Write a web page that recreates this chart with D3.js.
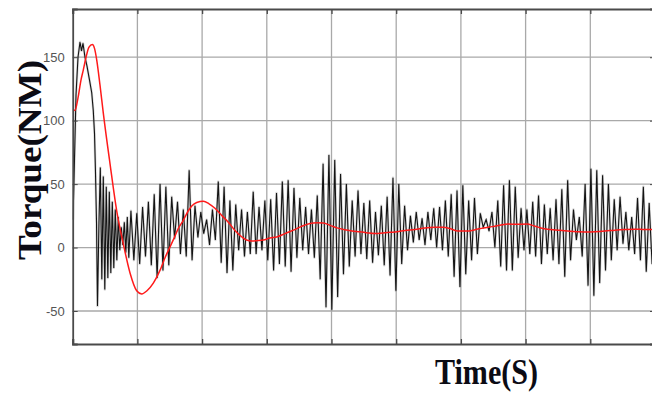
<!DOCTYPE html>
<html>
<head>
<meta charset="utf-8">
<script src="https://cdn.jsdelivr.net/npm/d3@7"></script>
<style>
  html, body { margin: 0; padding: 0; background: #fff; }
  svg { display: block; }
</style>
</head>
<body>
<div id="chart"></div>
<script>
// ---------------- DATA ----------------
const xGridTicks = [1, 2, 3, 4, 5, 6, 7, 8, 9];
const yTicks = [-50, 0, 50, 100, 150];
const yTickLabels = ["-50", "0", "50", "100", "150"];
const xLabel = "Time(S)";
const yLabel = "Torque(NM)";

// black (raw torque) – start-up transient, explicit time/value pairs
const blackStartTime = [0.005, 0.028, 0.051, 0.082, 0.113, 0.136, 0.159, 0.190, 0.221, 0.260,
  0.294, 0.318, 0.337, 0.352, 0.368, 0.383, 0.406, 0.427, 0.450, 0.473,
  0.496, 0.519, 0.543, 0.566, 0.589, 0.612, 0.635, 0.658, 0.682, 0.705,
  0.728, 0.751, 0.774, 0.798, 0.821, 0.844, 0.867];
const blackStartValue = [22, 70, 120, 150, 162, 155, 161, 150, 143, 132,
  122, 108, 90, 60, 20, -46, 20, 63, -25, 56,
  -33, 48, -24, 44, -20, 36, -16, 30, -10, 24,
  -2, 16, 2, 20, -4, 24, -8];

// black (raw torque) – steady oscillation, sampled every 0.045 s from t = 0.9
const blackSampleStart = 0.9;
const blackSampleStep = 0.045;
const blackSampleValue = [
  29, -10, 27, -13, 32, -7, 36, -14, 42, -24,
  50, -18, 48, -14, 40, 7, 36, -5, 30, -7,
  61, -10, 33, 8, 28, 11, 22, 2, 30, 6,
  52, -12, 48, -20, 37, -18, 34, -2, 30, -7,
  28, -5, 44, -5, 32, -2, 37, -10, 38, -18,
  43, -13, 52, -15, 53, -19, 47, -8, 39, -2,
  32, -5, 30, -8, 41, -25, 66, -47, 73, -49,
  69, -39, 58, -21, 50, -15, 37, -7, 45, -5,
  35, -9, 37, -12, 28, -6, 33, -14, 40, -22,
  55, -34, 50, -13, 33, -2, 25, 4, 28, 6,
  23, 2, 28, 6, 31, 0, 32, -2, 37, -7,
  42, -23, 45, -31, 49, -21, 37, -10, 39, -5,
  27, 16, 22, 13, 28, 0, 37, -15, 49, -18,
  53, -18, 48, -8, 31, -2, 30, -5, 36, -7,
  41, -13, 34, -5, 31, -10, 38, -13, 46, -23,
  53, -10, 30, 6, 24, -7, 50, -30, 62, -38,
  61, -28, 57, -18, 50, -10, 38, -2, 40, 3,
  28, -2, 24, -5, 39, -10, 48, -19, 35, -13,
  20
];

// red (filtered torque)
const redTime = [0.005, 0.036, 0.082, 0.128, 0.164, 0.206, 0.252, 0.303, 0.337, 0.371,
  0.422, 0.473, 0.577, 0.680, 0.782, 0.886, 0.989, 1.066, 1.148, 1.246,
  1.349, 1.427, 1.504, 1.581, 1.632, 1.709, 1.787, 1.844, 1.917, 2.019,
  2.107, 2.199, 2.300, 2.405, 2.508, 2.612, 2.686, 2.767, 2.856, 2.946,
  3.049, 3.153, 3.281, 3.410, 3.529, 3.668, 3.776, 3.873, 3.977, 4.085,
  4.209, 4.317, 4.441, 4.564, 4.672, 4.796, 4.904, 5.012, 5.136, 5.290,
  5.445, 5.600, 5.723, 5.831, 5.955, 6.090, 6.218, 6.346, 6.481, 6.604,
  6.728, 6.862, 7.017, 7.145, 7.269, 7.393, 7.532, 7.686, 7.918, 8.073,
  8.227, 8.382, 8.536, 8.691, 8.845, 9.0];
const redValue = [109, 108, 118, 132, 140, 150, 158, 160, 157, 148,
  128, 106, 66, 29, 3, -20, -34, -36.5, -34, -28,
  -18, -8, 0.5, 9, 15, 21.5, 29, 33, 35.5, 36.5,
  34.5, 31, 25.5, 20, 13.5, 8.5, 6, 5.2, 5.5, 6,
  7.5, 8.4, 11, 13.7, 16.5, 19, 19.5, 19.4, 17.5, 15.5,
  14, 13, 12.5, 11.5, 11, 11.5, 12, 12.5, 13.5, 14.2,
  15.5, 16, 16, 15, 13, 13, 14, 15.5, 16.5, 17.6,
  18.5, 18.4, 18.5, 16.8, 15, 14.2, 13.7, 12.8, 12.3, 12.5,
  13, 13.7, 14.2, 14.5, 14.2, 14.2];

// ---------------- CHART ----------------
const W = 652, H = 394;
const svg = d3.select("#chart").append("svg").attr("width", W).attr("height", H);

const x = d3.scaleLinear().domain([0, 9]).range([72.7, 655]);
const y = d3.scaleLinear().domain([-76, 188]).range([344, 9]);
const [x0, x1] = x.range();
const [yb, yt] = y.range();

svg.append("defs").append("clipPath").attr("id", "plotclip")
  .append("rect").attr("x", x0).attr("y", yt).attr("width", x1 - x0).attr("height", yb - yt);

// grid
const grid = svg.append("g");
grid.selectAll("line.vg").data(xGridTicks).join("line")
  .attr("x1", d => x(d)).attr("x2", d => x(d)).attr("y1", yt).attr("y2", yb)
  .attr("stroke", "#a9a9a9").attr("stroke-width", 1.3);
grid.selectAll("line.hg").data(yTicks).join("line")
  .attr("x1", x0).attr("x2", x1).attr("y1", d => y(d)).attr("y2", d => y(d))
  .attr("stroke", "#a9a9a9").attr("stroke-width", 1.3);

// data
const blackData = blackStartTime.map((t, i) => [t, blackStartValue[i]])
  .concat(blackSampleValue.map((v, i) => [blackSampleStart + i * blackSampleStep, v]));
const redData = redTime.map((t, i) => [t, redValue[i]]);
const line = d3.line().x(d => x(d[0])).y(d => y(d[1]));

const plot = svg.append("g").attr("clip-path", "url(#plotclip)");
plot.append("path").datum(blackData).attr("d", line)
  .attr("fill", "none").attr("stroke", "#777").attr("stroke-opacity", 0.3)
  .attr("stroke-width", 2.4).attr("stroke-linejoin", "round");
plot.append("path").datum(blackData).attr("d", line)
  .attr("fill", "none").attr("stroke", "#141414").attr("stroke-width", 1.1)
  .attr("stroke-linejoin", "miter");
plot.append("path").datum(redData).attr("d", d3.line().curve(d3.curveMonotoneX).x(d => x(d[0])).y(d => y(d[1])))
  .attr("fill", "none").attr("stroke", "#ff1a1a").attr("stroke-width", 1.5);

// axes (MATLAB-like box with inward ticks)
const axisColor = "#4a4a4a";
const yAxisL = d3.axisLeft(y).tickValues(yTicks).tickSize(-5).tickPadding(8)
  .tickFormat((d, i) => yTickLabels[i]);
const gy = svg.append("g").attr("transform", `translate(${x0},0)`).call(yAxisL);
gy.select(".domain").attr("stroke", axisColor).attr("stroke-width", 1.8);
gy.selectAll(".tick line").attr("stroke", axisColor);
gy.selectAll(".tick text").attr("font-family", "Liberation Sans, Arial, sans-serif")
  .attr("font-size", 13).attr("fill", "#555");

const yAxisR = d3.axisRight(y).tickValues(yTicks).tickSize(-5).tickFormat("");
const gyr = svg.append("g").attr("transform", `translate(${x1},0)`).call(yAxisR);
gyr.select(".domain").attr("stroke", axisColor).attr("stroke-width", 1.8);
gyr.selectAll(".tick line").attr("stroke", axisColor);

const xAxisB = d3.axisBottom(x).tickValues(xGridTicks).tickSize(-5).tickFormat("");
const gxb = svg.append("g").attr("transform", `translate(0,${yb})`).call(xAxisB);
gxb.select(".domain").attr("stroke", axisColor).attr("stroke-width", 2.2);
gxb.selectAll(".tick line").attr("stroke", axisColor).attr("stroke-width", 1.3);

const xAxisT = d3.axisTop(x).tickValues(xGridTicks).tickSize(-5).tickFormat("");
const gxt = svg.append("g").attr("transform", `translate(0,${yt})`).call(xAxisT);
gxt.select(".domain").attr("stroke", axisColor).attr("stroke-width", 2.2);
gxt.selectAll(".tick line").attr("stroke", axisColor).attr("stroke-width", 1.3);

// axis titles
svg.append("text").text(xLabel)
  .attr("x", 435).attr("y", 384)
  .attr("textLength", 103).attr("lengthAdjust", "spacingAndGlyphs")
  .attr("font-family", "Liberation Serif, Times New Roman, serif")
  .attr("font-weight", "bold").attr("font-size", 35).attr("fill", "#0b0b14");

svg.append("text").text(yLabel)
  .attr("transform", "translate(41,160) rotate(-90)")
  .attr("text-anchor", "middle")
  .attr("textLength", 200).attr("lengthAdjust", "spacingAndGlyphs")
  .attr("font-family", "Liberation Serif, Times New Roman, serif")
  .attr("font-weight", "bold").attr("font-size", 33).attr("fill", "#0b0b14");
</script>
</body>
</html>
